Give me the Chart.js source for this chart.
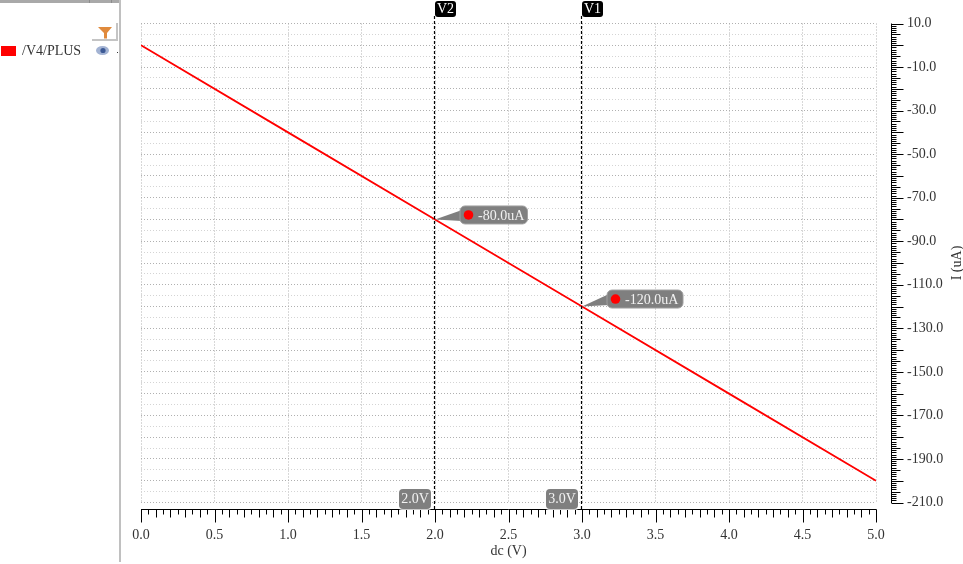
<!DOCTYPE html>
<html><head><meta charset="utf-8">
<style>html,body{margin:0;padding:0;background:#fff}#w{width:963px;height:564px;position:relative}</style>
<script src="https://cdn.jsdelivr.net/npm/chart.js@4/dist/chart.umd.min.js"></script>
</head><body><div id="w"><canvas id="c" width="963" height="564"></canvas></div>
<script>
const seriesName = '/V4/PLUS';
const dcVolts = [0, 1, 2, 3, 4, 5];
const currentUA = [0, -40, -80, -120, -160, -200];
const xTicks = [0, 0.5, 1, 1.5, 2, 2.5, 3, 3.5, 4, 4.5, 5];
const yGrid = [10,5,0,-5,-10,-15,-20,-25,-30,-35,-40,-45,-50,-55,-60,-65,-70,-75,-80,-85,-90,-95,-100,-105,-110,-115,-120,-125,-130,-135,-140,-145,-150,-155,-160,-165,-170,-175,-180,-185,-190,-195,-200,-205,-210];
const yLabelled = [10,-10,-30,-50,-70,-90,-110,-130,-150,-170,-190,-210];
const cursorNames = ['V2', 'V1'];
const cursorX = [2, 3];
const cursorXLabels = ['2.0V', '3.0V'];
const cursorY = [-80, -120];
const cursorYLabels = ['-80.0uA', '-120.0uA'];

const FONT = '"Liberation Serif", serif';
const TXT = '#333333';

function rr(ctx, x, y, w, h, r) { ctx.beginPath(); ctx.roundRect(x, y, w, h, r); }

const decor = {
  id: 'decor',
  afterDraw(chart) {
    const ctx = chart.ctx, X = chart.scales.x, Y = chart.scales.y;
    ctx.save();
    // left panel
    ctx.fillStyle = '#a9a9a9'; ctx.fillRect(0, 0, 119, 3);
    ctx.fillStyle = '#8c8c8c'; ctx.fillRect(89, 0, 1, 3); ctx.fillRect(111, 0, 1, 3);
    ctx.fillStyle = '#c0c0c0'; ctx.fillRect(119, 0, 2, 562);
    ctx.fillStyle = '#ff0000'; ctx.fillRect(1, 46, 15, 10);
    ctx.fillStyle = TXT; ctx.font = '14px ' + FONT; ctx.textAlign = 'left'; ctx.textBaseline = 'middle';
    ctx.fillText(seriesName, 22, 51.5);
    // filter button
    ctx.fillStyle = '#c4c4c4'; ctx.fillRect(116, 23, 2, 18); ctx.fillRect(92, 39, 26, 2);
    ctx.fillStyle = '#e08a3c'; ctx.beginPath(); ctx.moveTo(98, 27); ctx.lineTo(112, 27); ctx.lineTo(107, 33); ctx.lineTo(107, 38.5); ctx.lineTo(104, 38.5); ctx.lineTo(104, 33); ctx.closePath(); ctx.fill();
    // eye
    ctx.fillStyle = '#a3b3d3'; ctx.beginPath(); ctx.ellipse(102.5, 50.5, 6.5, 4.5, 0, 0, Math.PI * 2); ctx.fill();
    ctx.fillStyle = '#3d5a96'; ctx.beginPath(); ctx.arc(103, 50.5, 2.6, 0, Math.PI * 2); ctx.fill();
    ctx.fillStyle = '#333'; ctx.fillRect(117, 52, 1, 1);

    // x axis ruler
    ctx.strokeStyle = '#000'; ctx.lineWidth = 1;
    const axY = 509.5;
    ctx.beginPath(); ctx.moveTo(X.getPixelForValue(0), axY); ctx.lineTo(X.getPixelForValue(5) + 0.5, axY);
    for (let i = 0; i <= 100; i++) {
      const p = Math.round(X.getPixelForValue(i * 0.05)) + 0.5;
      const len = i % 10 === 0 ? 13 : i % 2 === 0 ? 8 : 5;
      ctx.moveTo(p, axY); ctx.lineTo(p, axY + len);
    }
    // y axis ruler
    const axX = 891.5;
    ctx.moveTo(axX, Y.getPixelForValue(10)); ctx.lineTo(axX, Y.getPixelForValue(-210) + 0.5);
    for (let i = 0; i <= 220; i++) {
      const p = Math.round(Y.getPixelForValue(10 - i)) + 0.5;
      const len = i % 10 === 0 ? 12 : i % 5 === 0 ? 9 : 5;
      ctx.moveTo(axX, p); ctx.lineTo(axX + len, p);
    }
    ctx.stroke();

    // y axis title
    ctx.save(); ctx.translate(957, (Y.top + Y.bottom) / 2); ctx.rotate(-Math.PI / 2);
    ctx.fillStyle = TXT; ctx.font = '14px ' + FONT; ctx.textAlign = 'center'; ctx.textBaseline = 'middle';
    ctx.fillText('I (uA)', 0, 0); ctx.restore();

    // cursors
    cursorX.forEach((v, i) => {
      const p = Math.round(X.getPixelForValue(v)) - 0.5;
      ctx.strokeStyle = '#000'; ctx.lineWidth = 1.2; ctx.setLineDash([3, 2]);
      ctx.beginPath(); ctx.moveTo(p, 16); ctx.lineTo(p, 509); ctx.stroke(); ctx.setLineDash([]);
      // name tag
      ctx.fillStyle = '#000'; rr(ctx, p + 0.5, 1, 21, 16, 3); ctx.fill();
      ctx.fillStyle = '#fff'; ctx.font = '14px ' + FONT; ctx.textAlign = 'center'; ctx.textBaseline = 'middle';
      ctx.fillText(cursorNames[i], p + 11, 9);
      // x value tag
      ctx.fillStyle = 'rgba(255,255,255,0.8)'; rr(ctx, p - 36.5, 488, 34, 22, 4); ctx.fill();
      ctx.fillStyle = '#7f7f7f'; rr(ctx, p - 35.5, 489, 32, 20, 4); ctx.fill();
      ctx.fillStyle = '#f2f2f2'; ctx.font = '14px ' + FONT;
      ctx.fillText(cursorXLabels[i], p - 19.5, 499.5);
      // marker tag
      const px = X.getPixelForValue(v), py = Y.getPixelForValue(cursorY[i]);
      const bx = px + 25, by = py - (i === 0 ? 13.5 : 16.5), bw = i === 0 ? 67.5 : 76, bh = 18;
      ctx.fillStyle = '#7f7f7f';
      ctx.beginPath(); ctx.moveTo(px, py); ctx.lineTo(bx + 2, by + 4); ctx.lineTo(bx + 2, by + 15); ctx.closePath(); ctx.fill();
      rr(ctx, bx, by, bw, bh, 5); ctx.fill();
      ctx.strokeStyle = '#a0a0a0'; ctx.lineWidth = 1; rr(ctx, bx, by, bw, bh, 5); ctx.stroke();
      ctx.fillStyle = '#ff0000'; ctx.beginPath(); ctx.arc(bx + 8.5, by + 9, 4.8, 0, Math.PI * 2); ctx.fill();
      ctx.fillStyle = '#f2f2f2'; ctx.font = '14px ' + FONT; ctx.textAlign = 'left';
      ctx.fillText(cursorYLabels[i], bx + 18, by + 10);
    });
    ctx.restore();
  }
};

new Chart(document.getElementById('c'), {
  type: 'line',
  data: {
    labels: dcVolts,
    datasets: [{ label: seriesName, data: dcVolts.map((x, i) => ({ x, y: currentUA[i] })), borderColor: '#ff0000', backgroundColor: '#ff0000', borderWidth: 1.8, pointRadius: 0, tension: 0 }]
  },
  options: {
    responsive: false, animation: false, devicePixelRatio: 1,
    layout: { padding: { left: 141, top: 23.5, right: 0, bottom: 0 } },
    plugins: { legend: { display: false }, tooltip: { enabled: false }, title: { display: false } },
    scales: {
      x: {
        type: 'linear', min: 0, max: 5, position: 'bottom',
        afterFit(s) { s.height = 61.5; s.paddingLeft = 0; s.paddingRight = 0; },
        afterBuildTicks(s) { s.ticks = xTicks.map(value => ({ value })); },
        grid: { color: '#b0b0b0', lineWidth: 1, drawTicks: false, tickLength: 0 },
        border: { display: false, dash: [1, 2] },
        ticks: { padding: 24, maxRotation: 0, autoSkip: false, color: TXT, font: { family: FONT, size: 14 }, callback: v => Number(v).toFixed(1) },
        title: { display: true, text: 'dc (V)', color: TXT, font: { family: FONT, size: 14 }, padding: { top: 0, bottom: 4 } }
      },
      y: {
        type: 'linear', min: -210, max: 10, position: 'right',
        afterFit(s) { s.width = 87; s.paddingTop = 0; s.paddingBottom = 0; },
        afterBuildTicks(s) { s.ticks = yGrid.map(value => ({ value })); },
        grid: { color: c => (c.tick && c.tick.value % 10 === 0) ? '#b0b0b0' : '#d4d4d4', lineWidth: 1, drawTicks: false, tickLength: 0 },
        border: { display: false, dash: [1, 2] },
        ticks: { padding: 31, autoSkip: false, maxRotation: 0, color: TXT, font: { family: FONT, size: 14 }, callback: v => yLabelled.includes(v) ? Number(v).toFixed(1) : '' }
      }
    }
  },
  plugins: [decor]
});
</script></body></html>
